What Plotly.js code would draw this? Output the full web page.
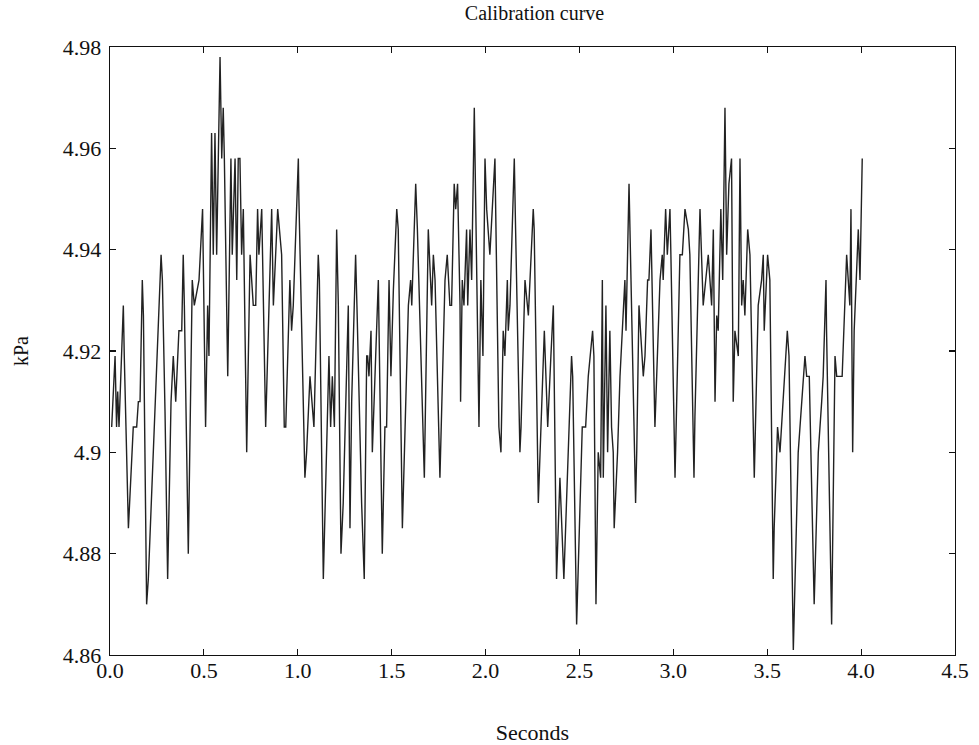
<!DOCTYPE html>
<html>
<head>
<meta charset="utf-8">
<script src="https://cdn.plot.ly/plotly-3.0.1.min.js"></script>
<style>html,body{margin:0;padding:0;background:#fff;}#chart{width:979px;height:745px;}</style>
</head>
<body>
<div id="chart"></div>
<script>
// Time (seconds) of each sample vertex
const seconds = [
0.009,0.027,0.035,0.041,0.048,0.071,0.076,0.098,0.124,0.142,0.151,0.160,0.172,0.178,0.195,0.204,
0.272,0.279,0.293,0.307,0.325,0.337,0.350,0.367,0.382,0.390,0.396,0.417,0.438,0.449,0.474,0.493,
0.509,0.520,0.527,0.541,0.550,0.559,0.568,0.573,0.586,0.595,0.603,0.609,0.627,0.644,0.651,0.666,
0.675,0.683,0.692,0.701,0.710,0.728,0.746,0.763,0.776,0.786,0.793,0.808,0.822,0.829,0.861,0.870,
0.893,0.914,0.928,0.936,0.958,0.967,0.976,1.003,1.006,1.038,1.047,1.065,1.086,1.109,1.115,1.136,
1.166,1.175,1.184,1.195,1.207,1.216,1.230,1.242,1.269,1.278,1.287,1.308,1.315,1.331,1.340,1.354,
1.367,1.372,1.379,1.390,1.397,1.429,1.450,1.464,1.473,1.486,1.496,1.509,1.527,1.535,1.557,1.589,
1.601,1.607,1.628,1.637,1.674,1.695,1.713,1.722,1.731,1.757,1.784,1.796,1.810,1.819,1.833,1.841,
1.851,1.864,1.867,1.876,1.885,1.899,1.905,1.917,1.926,1.940,1.952,1.965,1.975,1.986,1.997,2.006,
2.023,2.050,2.071,2.082,2.094,2.103,2.116,2.121,2.130,2.153,2.160,2.183,2.189,2.210,2.228,2.236,
2.254,2.259,2.281,2.313,2.331,2.348,2.361,2.378,2.396,2.417,2.426,2.458,2.464,2.485,2.515,2.533,
2.547,2.570,2.577,2.588,2.600,2.613,2.622,2.627,2.641,2.650,2.662,2.671,2.680,2.685,2.703,2.716,
2.742,2.748,2.764,2.799,2.805,2.817,2.840,2.849,2.863,2.870,2.881,2.902,2.929,2.941,2.946,2.959,
2.968,2.982,2.987,3.009,3.035,3.048,3.062,3.080,3.088,3.110,3.115,3.142,3.159,3.186,3.204,3.213,
3.222,3.231,3.239,3.253,3.263,3.275,3.284,3.296,3.310,3.319,3.328,3.346,3.355,3.364,3.372,3.381,
3.396,3.408,3.431,3.452,3.470,3.479,3.484,3.502,3.514,3.532,3.537,3.555,3.568,3.607,3.616,3.639,
3.665,3.701,3.710,3.724,3.750,3.772,3.790,3.798,3.813,3.816,3.843,3.861,3.870,3.899,3.923,3.940,
3.946,3.955,3.963,3.985,3.994,4.006
];
// Pressure (kPa) at each vertex
const pressure = [
4.905,4.919,4.905,4.912,4.905,4.929,4.919,4.885,4.905,4.905,4.910,4.910,4.934,4.927,4.870,4.875,
4.939,4.934,4.908,4.875,4.910,4.919,4.910,4.924,4.924,4.939,4.929,4.880,4.934,4.929,4.934,4.948,
4.905,4.929,4.919,4.963,4.939,4.963,4.939,4.949,4.978,4.958,4.968,4.958,4.915,4.958,4.939,4.958,
4.934,4.958,4.958,4.939,4.948,4.900,4.939,4.929,4.929,4.948,4.939,4.948,4.915,4.905,4.948,4.929,
4.948,4.939,4.905,4.905,4.934,4.924,4.929,4.958,4.950,4.895,4.900,4.915,4.905,4.939,4.934,4.875,
4.919,4.905,4.915,4.905,4.944,4.929,4.880,4.890,4.929,4.885,4.910,4.939,4.929,4.900,4.890,4.875,
4.919,4.919,4.915,4.924,4.900,4.934,4.880,4.905,4.905,4.934,4.915,4.932,4.948,4.944,4.885,4.929,
4.934,4.929,4.953,4.944,4.895,4.944,4.929,4.939,4.934,4.895,4.934,4.939,4.929,4.929,4.953,4.948,
4.953,4.929,4.910,4.934,4.929,4.944,4.929,4.944,4.934,4.968,4.934,4.905,4.934,4.919,4.958,4.948,
4.939,4.958,4.905,4.900,4.924,4.919,4.934,4.924,4.929,4.958,4.944,4.900,4.905,4.934,4.927,4.934,
4.948,4.944,4.890,4.924,4.905,4.919,4.929,4.875,4.895,4.875,4.885,4.919,4.915,4.866,4.905,4.905,
4.915,4.924,4.919,4.870,4.900,4.895,4.934,4.895,4.929,4.900,4.924,4.905,4.900,4.885,4.900,4.915,
4.934,4.924,4.953,4.890,4.900,4.929,4.915,4.919,4.934,4.934,4.944,4.905,4.934,4.939,4.934,4.948,
4.939,4.948,4.939,4.895,4.939,4.939,4.948,4.944,4.939,4.895,4.907,4.948,4.929,4.939,4.929,4.944,
4.910,4.927,4.924,4.948,4.934,4.968,4.939,4.953,4.958,4.910,4.924,4.919,4.958,4.929,4.934,4.927,
4.944,4.939,4.895,4.929,4.934,4.939,4.924,4.939,4.934,4.875,4.885,4.905,4.900,4.924,4.919,4.861,
4.900,4.919,4.915,4.915,4.870,4.900,4.910,4.915,4.934,4.924,4.866,4.919,4.915,4.915,4.939,4.929,
4.948,4.900,4.924,4.944,4.934,4.958
];
const xTickVals = [0,0.5,1,1.5,2,2.5,3,3.5,4,4.5];
const yTickVals = [4.86,4.88,4.90,4.92,4.94,4.96,4.98];
const yTickText = ['4.86','4.88','4.9','4.92','4.94','4.96','4.98'];
const titleText = 'Calibration curve';
const xTitle = 'Seconds';
const yTitle = 'kPa';

const serif = '"Liberation Serif", "Times New Roman", serif';
const trace = {
  x: seconds, y: pressure, type: 'scatter', mode: 'lines',
  line: {color: '#222', width: 1.4}, hoverinfo: 'skip'
};
const axisCommon = {
  showgrid: false, zeroline: false, showline: true, linecolor: '#111', linewidth: 1.3,
  mirror: 'ticks', ticks: 'inside', ticklen: 6, tickwidth: 1.2, tickcolor: '#111',
  tickfont: {family: serif, size: 22, color: '#111'}, automargin: false
};
const layout = {
  width: 979, height: 745,
  paper_bgcolor: '#fff', plot_bgcolor: '#fff',
  margin: {l: 110, r: 24, t: 47, b: 90},
  showlegend: false,
  title: {text: titleText, x: 0.546, xanchor: 'center', y: 0.992, yanchor: 'top',
          font: {family: serif, size: 20, color: '#111'}},
  xaxis: Object.assign({}, axisCommon, {
    range: [0, 4.5], tickvals: xTickVals, tickformat: '.1f',
    ticklabelstandoff: -5,
    title: {text: xTitle, standoff: 46, font: {family: serif, size: 22, color: '#111'}}
  }),
  yaxis: Object.assign({}, axisCommon, {
    range: [4.86, 4.98], tickvals: yTickVals, ticktext: yTickText,
    ticklabelstandoff: 3,
    title: {text: yTitle, standoff: 28, font: {family: serif, size: 20, color: '#111'}}
  })
};
Plotly.newPlot('chart', [trace], layout, {staticPlot: true, displayModeBar: false});
</script>
</body>
</html>
